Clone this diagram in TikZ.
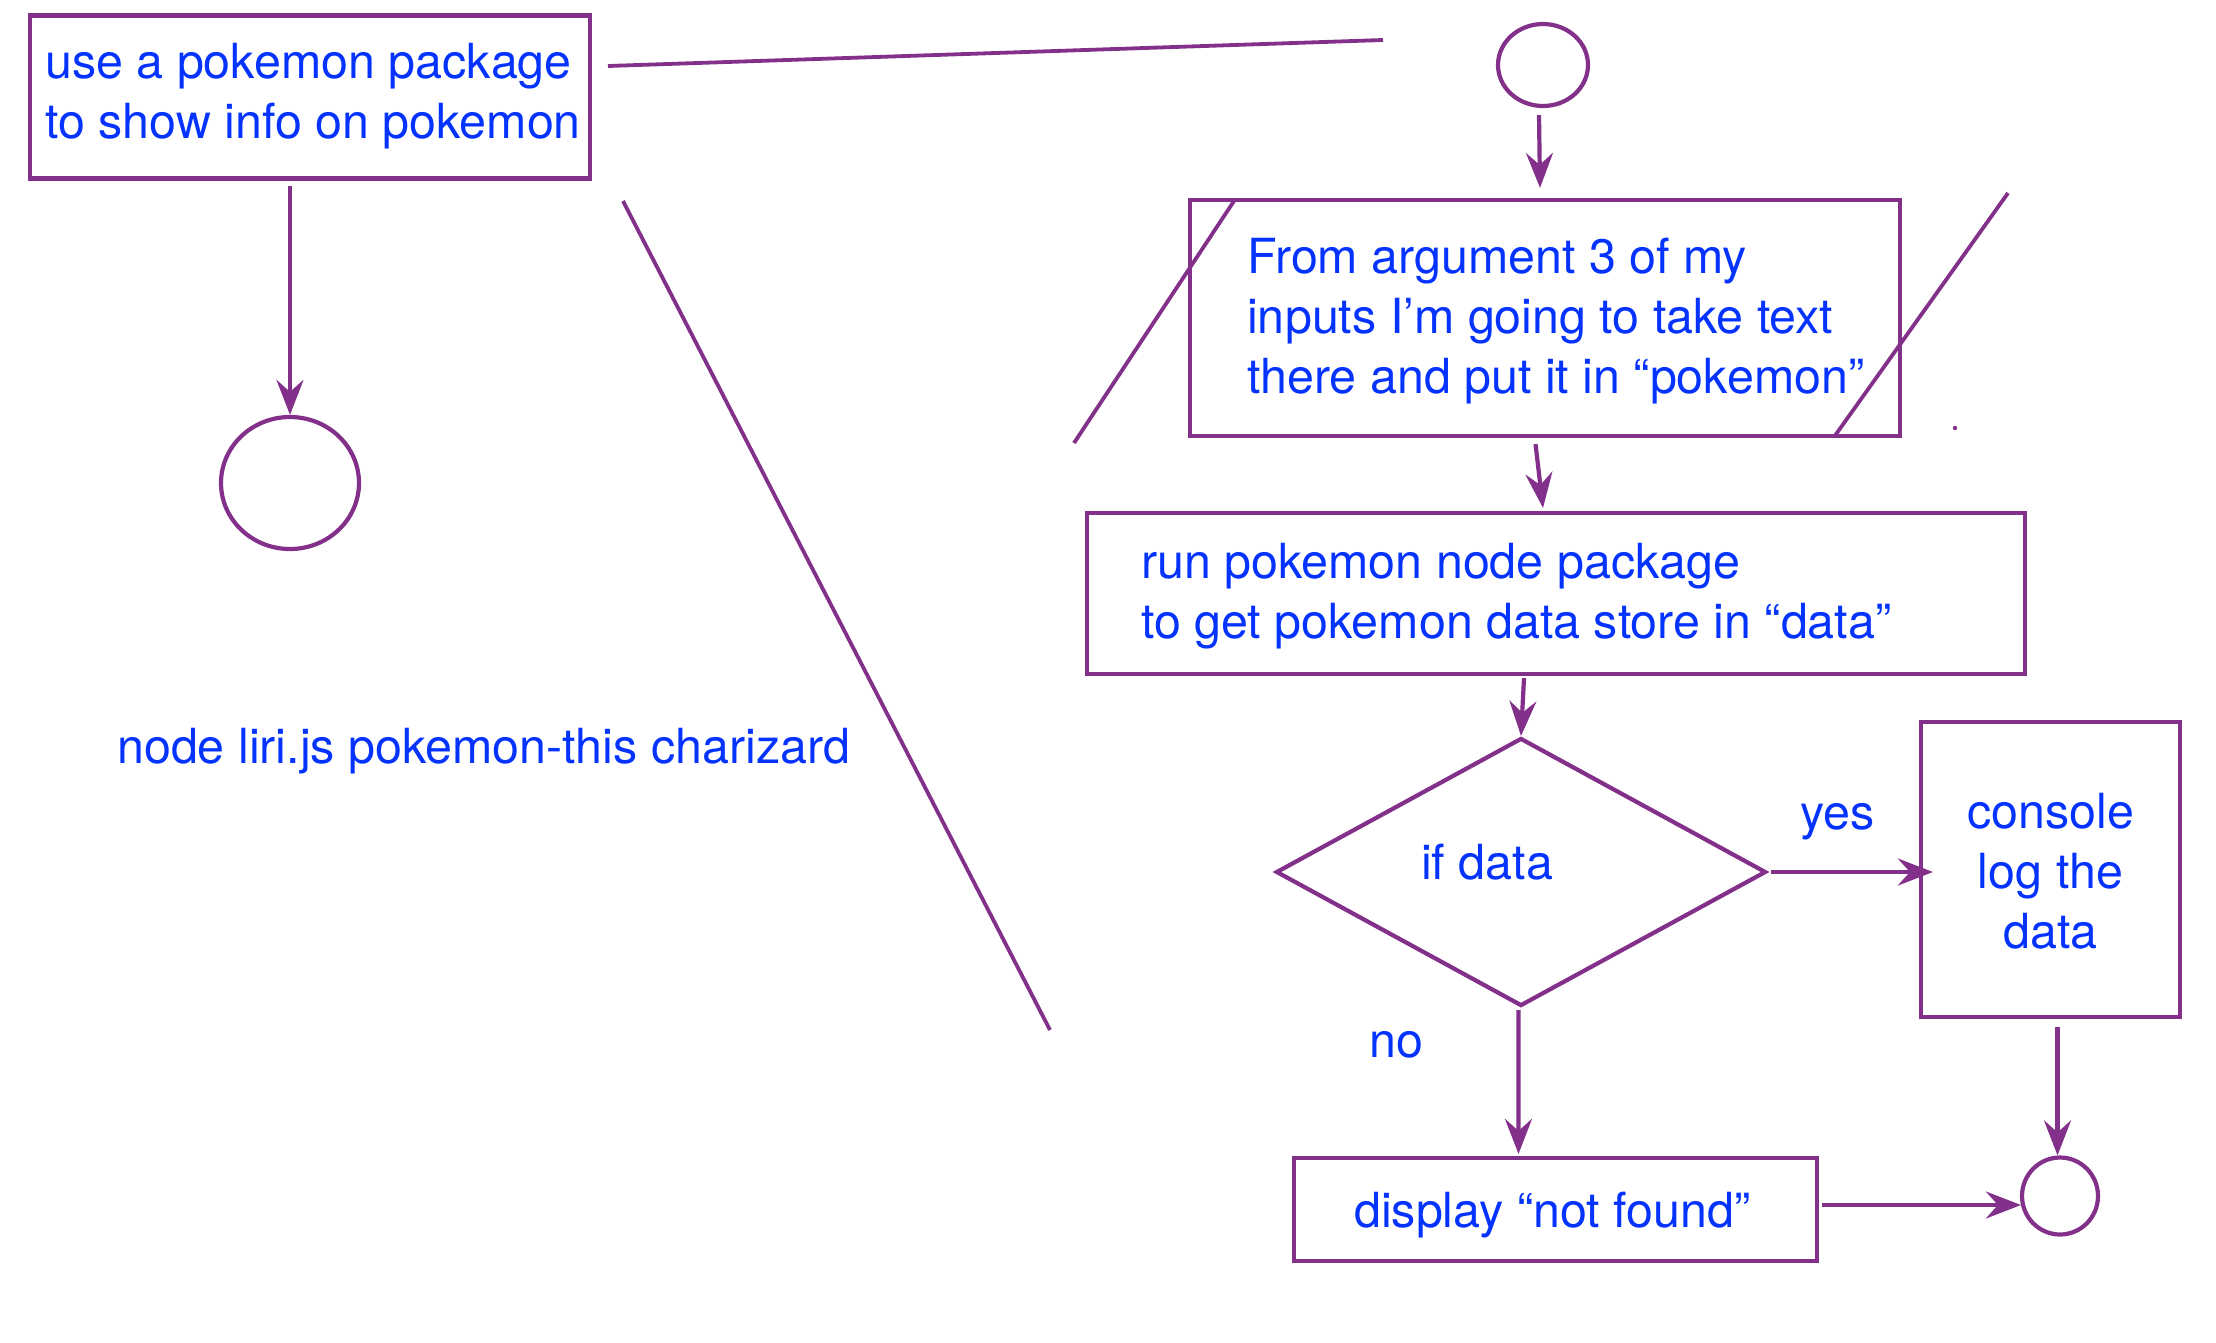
\documentclass[tikz,border=0pt]{standalone}
\usepackage{fontspec}
\setmainfont{TeX Gyre Heros}
\usetikzlibrary{arrows.meta,shapes.geometric}
\definecolor{pline}{RGB}{130,48,138}
\definecolor{ptext}{RGB}{4,51,255}
\begin{document}
\begin{tikzpicture}[x=1pt,y=-1pt,
  box/.style={draw=pline, line width=4.2pt, rectangle, inner sep=0pt},
  circ/.style={draw=pline, line width=4.2pt, ellipse, inner sep=0pt},
  dia/.style={draw=pline, line width=4.2pt, diamond, inner sep=0pt},
  txt/.style={text=ptext, font=\fontsize{48.4}{60}\selectfont, inner sep=0pt, align=left},
  arr/.style={draw=pline, line width=4.2pt, -{Stealth[length=35pt,width=27pt,inset=12pt]}},
  ln/.style={draw=pline, line width=3.8pt}]
\useasboundingbox (0,0) rectangle (2216,1342);
% boxes and circles
\node[box, minimum width=560pt, minimum height=163pt] (b1) at (310,97) {};
\node[circ, minimum width=138pt, minimum height=132pt] (c1) at (290,483) {};
\node[circ, minimum width=90pt, minimum height=82pt] (c2) at (1543,65) {};
\node[box, minimum width=710pt, minimum height=236pt] (b2) at (1545,318) {};
\node[box, minimum width=938pt, minimum height=161pt] (b3) at (1556,593.5) {};
\node[dia, minimum width=490pt, minimum height=268pt] (d1) at (1521,872) {};
\node[box, minimum width=259pt, minimum height=295pt] (b4) at (2050.5,869.5) {};
\node[box, minimum width=523pt, minimum height=103pt] (b5) at (1555.5,1209.5) {};
\node[circ, minimum width=76pt, minimum height=77pt] (c3) at (2060,1196) {};
% texts (base anchor = baseline of the last line)
\node[txt, anchor=base west] (t1) at (45,138) {use a pokemon package\\to show info on pokemon};
\node[txt, anchor=base west] (t2) at (117,763) {node liri.js pokemon-this charizard};
\node[txt, anchor=base west] (t3) at (1247,393) {From argument 3 of my\\inputs I’m going to take text\\there and put it in “pokemon”};
\node[txt, anchor=base west] (t4) at (1141,638) {run pokemon node package\\to get pokemon data store in “data”};
\node[txt, anchor=base west] (t5) at (1421,879) {if data};
\node[txt, anchor=base west] (t6) at (1800,829) {yes};
\node[txt, anchor=base, align=center] (t7) at (2050.5,948) {console\\log the\\data};
\node[txt, anchor=base west] (t8) at (1369,1057) {no};
\node[txt, anchor=base west] (t9) at (1354,1227) {display “not found”};
% free strokes
\coordinate (l1a) at (608,66);
\coordinate (l1b) at (1383,40);
\coordinate (l2a) at (623,201);
\coordinate (l2b) at (1050,1030);
\coordinate (l3a) at (1234,201);
\coordinate (l3b) at (1074,443);
\coordinate (l4a) at (2008,193);
\coordinate (l4b) at (1834,437);
\coordinate (dot) at (1955,428);
\draw[ln] (l1a) -- (l1b);
\draw[ln] (l2a) -- (l2b);
\draw[ln] (l3a) -- (l3b);
\draw[ln] (l4a) -- (l4b);
\fill[pline] (dot) circle (2.2pt);
% connectors
\draw[arr] ([xshift=-20pt,yshift=-5.5pt]b1.south) -- (c1.north);
\draw[arr] ([xshift=-4pt,yshift=-7pt]c2.south) -- ([xshift=-5pt,yshift=10pt]b2.north);
\draw[arr] ([xshift=-9.5pt,yshift=-6pt]b2.south) -- ([xshift=-13pt,yshift=3pt]b3.north);
\draw[arr] ([xshift=-32pt,yshift=-2pt]b3.south) -- (d1.north);
\draw[arr] ([xshift=3pt]d1.east) -- ([xshift=14pt,yshift=-2.5pt]b4.west);
\draw[arr] ([xshift=-2.6pt,yshift=-2pt]d1.south) -- ([xshift=-37pt,yshift=2pt]b5.north);
\draw[arr] ([xshift=2.5pt,yshift=4.5pt]b5.east) -- ([xshift=1pt,yshift=-9pt]c3.west);
\draw[arr] ([xshift=7pt,yshift=-8pt]b4.south) -- ([xshift=-2.5pt]c3.north);
\end{tikzpicture}
\end{document}
